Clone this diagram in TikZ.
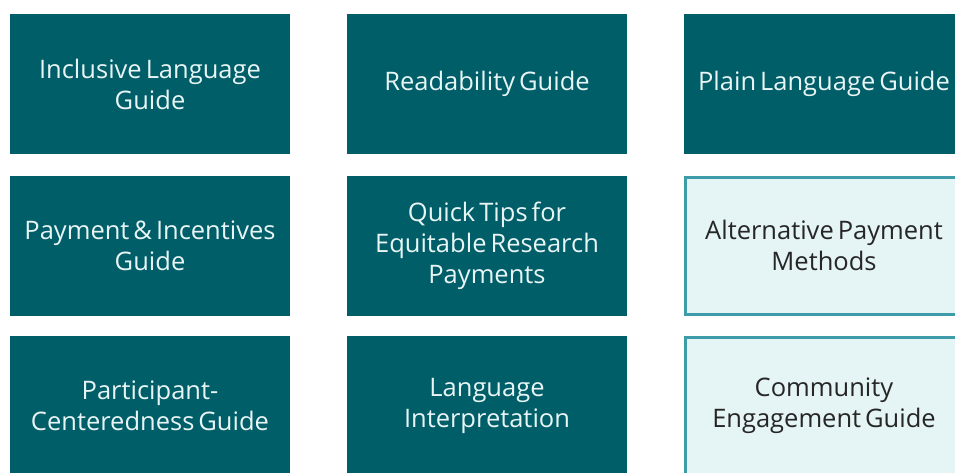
\documentclass[tikz,border=0pt]{standalone}
\usepackage{fontspec}
\setmainfont{Open Sans}[WordSpace=0.6]
\definecolor{tealdark}{HTML}{005E69}
\definecolor{teallight}{HTML}{E5F4F5}
\definecolor{tealedge}{HTML}{3D9CA7}
\definecolor{paletext}{HTML}{E9F5F5}
\tikzset{
	guidebox/.style={minimum width=280pt, minimum height=140pt, inner sep=0pt,
		align=center, font=\fontsize{25.5}{31}\selectfont},
	darkbox/.style={guidebox, fill=tealdark, text=paletext},
	lightbox/.style={guidebox, fill=teallight, draw=tealedge, line width=3pt,
		minimum width=277pt, minimum height=137pt, text=black!85}
}
\begin{document}
\begin{tikzpicture}[x=1pt,y=-1pt]

\useasboundingbox[fill=white] (0,0) rectangle (955,472);

\node[darkbox] (incl) at (150,84) {Inclusive Language\\Guide};
\node[darkbox] (read) at (487,84) {Readability Guide};
\node[darkbox] (plain) at (824,84) {Plain Language Guide};

\node[darkbox] (pay) at (150,245.5) {Payment \& Incentives\\Guide};
\node[darkbox] (tips) at (487,245.5) {Quick Tips for\\Equitable Research\\Payments};
\node[lightbox] (alt) at (824,245.5) {Alternative Payment\\Methods};

\node[darkbox] (part) at (150,406) {Participant-\\Centeredness Guide};
\node[darkbox] (interp) at (487,406) {Language\\Interpretation};
\node[lightbox] (comm) at (824,406) {Community\\Engagement Guide};

\end{tikzpicture}
\end{document}
